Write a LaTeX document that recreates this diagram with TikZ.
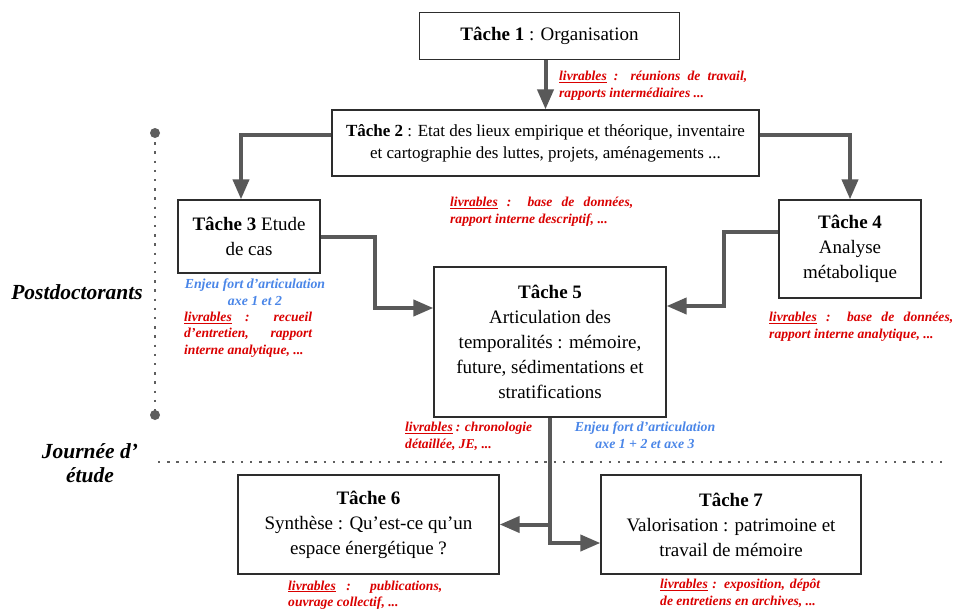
\documentclass[tikz,border=0pt]{standalone}
\usepackage{fontspec}
\setmainfont{Liberation Serif}
\usetikzlibrary{arrows.meta,calc}
\definecolor{livred}{RGB}{218,0,0}
\definecolor{enjblue}{RGB}{74,134,232}
\definecolor{arrgray}{RGB}{89,89,89}
\definecolor{boxgray}{RGB}{45,45,45}
\definecolor{dotgray}{RGB}{95,95,95}
\newcommand{\livr}{\underline{livrables}}
\begin{document}
\begin{tikzpicture}[x=1pt,y=-1pt,
  taskbox/.style={draw=boxgray,line width=1.3pt,fill=white,align=center,inner sep=0pt,
    font=\fontsize{19}{25}\selectfont},
  conn/.style={draw=arrgray,line width=4pt,-{Triangle[length=20pt,width=16pt]}},
  livtext/.style={text=livred,align=justify,inner sep=0pt,
    font=\fontsize{13.6}{16.5}\selectfont\bfseries\itshape},
  enjtext/.style={text=enjblue,align=center,inner sep=0pt,
    font=\fontsize{13.8}{17}\selectfont\bfseries\itshape},
  sidetext/.style={inner sep=0pt,align=center,font=\fontsize{21.5}{24}\selectfont\bfseries\itshape},
  dotline/.style={draw=dotgray,line width=2.4pt,dash pattern=on 2.4pt off 6.8pt}
]
\useasboundingbox (0,0) rectangle (955,613);
\fill[white] (0,0) rectangle (955,613);

% side separators
\coordinate (dv1) at (155,133);
\coordinate (dv2) at (155,415);
\coordinate (dh1) at (158,462);
\coordinate (dh2) at (942,462);
\draw[dotline] (dv1) -- (dv2);
\fill[dotgray] (dv1) circle (5);
\fill[dotgray] (dv2) circle (5);
\draw[dotline] (dh1) -- (dh2);

% task boxes
\node[taskbox,minimum width=260pt,minimum height=47pt] (t1) at (549.5,36)
  {\textbf{Tâche 1} : Organisation};
\node[taskbox,minimum width=427pt,minimum height=66pt,font=\fontsize{17}{22}\selectfont] (t2) at (545.5,143)
  {\textbf{Tâche 2} : Etat des lieux empirique et théorique, inventaire\\ et cartographie des luttes, projets, aménagements ...};
\node[taskbox,minimum width=142pt,minimum height=73pt] (t3) at (249,236.5)
  {\textbf{Tâche 3} Etude\\de cas};
\node[taskbox,minimum width=142pt,minimum height=98pt] (t4) at (850,249)
  {\textbf{Tâche 4}\\Analyse\\métabolique};
\node[taskbox,minimum width=232pt,minimum height=150pt] (t5) at (550,342)
  {\textbf{Tâche 5}\\Articulation des\\temporalités : mémoire,\\future, sédimentations et\\stratifications};
\node[taskbox,minimum width=261pt,minimum height=99pt] (t6) at (368.5,524.5)
  {\textbf{Tâche 6}\\Synthèse : Qu’est-ce qu’un\\espace énergétique ?};
\node[taskbox,minimum width=260pt,minimum height=99pt] (t7) at (731,524.5)
  {\textbf{Tâche 7}\\Valorisation : patrimoine et\\travail de mémoire};

% connectors
\draw[conn] (t1.south -| t2.north) -- (t2.north);
\draw[conn] ([yshift=8pt]t2.west) -| ([xshift=-8pt]t3.north);
\draw[conn] ([yshift=8pt]t2.east) -| (t4.north);
\draw[conn] (t3.east) -- ++(54,0) |- ([yshift=34pt]t5.west);
\draw[conn] ([yshift=17pt]t4.west) -- ++(-54,0) |- ([yshift=36pt]t5.east);
\draw[conn] (t5.south) |- ([yshift=-18.5pt]t7.west);
\draw[conn] (t5.south |- t6.east) -- (t6.east);

% deliverables and notes
\node[livtext,text width=188pt,anchor=west] (l1) at (559,85.5)
  {\livr{} : réunions de travail,\linebreak rapports intermédiaires ...};
\node[livtext,text width=183pt,anchor=west] (l2) at (450,211.5)
  {\livr{} : base de données,\linebreak rapport interne descriptif, ...};
\node[enjtext] (b3) at (255,292.5) {Enjeu fort d’articulation\\axe 1 et 2};
\node[livtext,text width=128pt,anchor=west] (l3) at (184,334.5)
  {\livr{} : recueil\linebreak d’entretien, rapport\linebreak interne analytique, ...};
\node[livtext,text width=184pt,anchor=west] (l4) at (769,326.5)
  {\livr{} : base de données,\linebreak rapport interne analytique, ...};
\node[livtext,text width=127pt,anchor=west] (l5) at (405,436.5)
  {\livr{} : chronologie\linebreak détaillée, JE, ...};
\node[enjtext] (b5) at (645,435.5) {Enjeu fort d’articulation\\axe 1 + 2 et axe 3};
\node[livtext,text width=154pt,anchor=west] (l6) at (288,595)
  {\livr{} : publications,\linebreak ouvrage collectif, ...};
\node[livtext,text width=160pt,anchor=west] (l7) at (660,593)
  {\livr{} : exposition, dépôt\linebreak de entretiens en archives, ...};

% side labels
\node[sidetext] (pd) at (77,292) {Postdoctorants};
\node[sidetext] (je) at (90,463) {Journée d’\\étude};
\end{tikzpicture}
\end{document}
